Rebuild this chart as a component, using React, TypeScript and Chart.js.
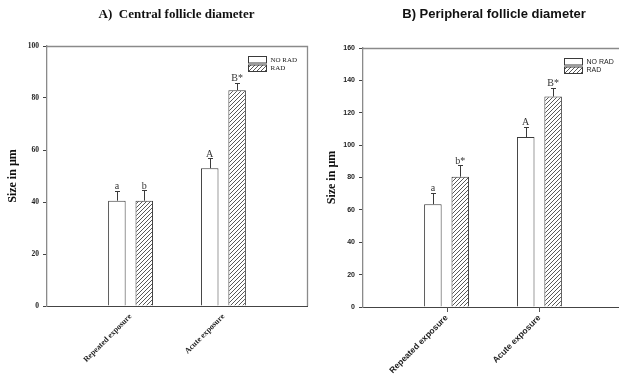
import React, { useEffect, useRef } from "react";
import { Chart, registerables } from "chart.js";

Chart.register(...registerables);

// ---------- data ----------
const categories = ["Repeated exposure", "Acute exposure"];
const seriesNames = ["NO RAD", "RAD"];

// Panel A: central follicle diameter
const centralTitle = "A)  Central follicle diameter";
const centralTicks = [0, 20, 40, 60, 80, 100];
const centralNoRad = [40.5, 53];
const centralRad = [40.5, 83];
const centralNoRadErr = [3.9, 3.8];
const centralRadErr = [4, 2.9];
const centralNoRadMarks = ["a", "A"];
const centralRadMarks = ["b", "B*"];

// Panel B: peripheral follicle diameter
const periphTitle = "B) Peripheral follicle diameter";
const periphTicks = [0, 20, 40, 60, 80, 100, 120, 140, 160];
const periphNoRad = [63.5, 105];
const periphRad = [80.5, 130];
const periphNoRadErr = [7, 6.5];
const periphRadErr = [7, 5.5];
const periphNoRadMarks = ["a", "A"];
const periphRadMarks = ["b*", "B*"];

const yTitle = "Size in µm";

const SERIF = "'Liberation Serif', 'Times New Roman', serif";
const SANS = "'Liberation Sans', Arial, sans-serif";

type PanelCfg = {
  canvasLeft: number;
  canvasWidth: number;
  padTop: number;
  padRight: number;
  yWidth: number;
  xHeight: number;
  xMin: number;
  xMax: number;
  yTicks: number[];
  noRad: number[];
  rad: number[];
  noRadErr: number[];
  radErr: number[];
  noRadMarks: string[];
  radMarks: string[];
  title: string;
  titleFont: string;
  titleX: number;
  titleY: number;
  tickFamily: string;
  yTickSize: number;
  xLabelSize: number;
  legendFont: string;
  showXTicks: boolean;
  yTitlePad: number;
};

function makeHatch(): CanvasPattern | string {
  const c = document.createElement("canvas");
  c.width = 4;
  c.height = 4;
  const g = c.getContext("2d");
  if (!g) return "#ccc";
  g.fillStyle = "#ffffff";
  g.fillRect(0, 0, 4, 4);
  g.strokeStyle = "#3a3a3a";
  g.lineWidth = 0.85;
  g.beginPath();
  g.moveTo(0, 4);
  g.lineTo(4, 0);
  g.moveTo(-1, 1);
  g.lineTo(1, -1);
  g.moveTo(3, 5);
  g.lineTo(5, 3);
  g.stroke();
  return g.createPattern(c, "repeat") || "#ccc";
}

const H = 378;

function Panel({ cfg }: { cfg: PanelCfg }) {
  const ref = useRef<HTMLCanvasElement | null>(null);

  useEffect(() => {
    if (!ref.current) return;
    const hatch = makeHatch();
    const xs = categories.map((_, i) => i + 1);
    const errs = [cfg.noRadErr, cfg.radErr];
    const marks = [cfg.noRadMarks, cfg.radMarks];

    const drawPlugin = {
      id: "decor",
      afterDatasetsDraw(chart: any) {
        const ctx = chart.ctx as CanvasRenderingContext2D;
        const a = chart.chartArea;
        const ys = chart.scales.y;
        const xsc = chart.scales.x;
        ctx.save();
        // frame top & right
        ctx.strokeStyle = "#8a8a8a";
        ctx.lineWidth = 1.3;
        ctx.beginPath();
        ctx.moveTo(a.left, Math.round(a.top) + 0.5);
        ctx.lineTo(Math.round(a.right) + 0.5, Math.round(a.top) + 0.5);
        ctx.lineTo(Math.round(a.right) + 0.5, a.bottom);
        ctx.stroke();

        // category tick marks
        if (cfg.showXTicks) {
          ctx.strokeStyle = "#555";
          ctx.lineWidth = 1;
          ctx.beginPath();
          xs.forEach((v) => {
            const px = Math.round(xsc.getPixelForValue(v)) + 0.5;
            ctx.moveTo(px, a.bottom);
            ctx.lineTo(px, a.bottom + 5);
          });
          ctx.stroke();
        }

        // error bars + marks
        chart.data.datasets.forEach((ds: any, di: number) => {
          const meta = chart.getDatasetMeta(di);
          meta.data.forEach((el: any, i: number) => {
            const v = ds.data[i].y;
            const top = ys.getPixelForValue(v + errs[di][i]);
            const x = Math.round(el.x) + 0.5;
            ctx.strokeStyle = "#3a3a3a";
            ctx.lineWidth = 1;
            ctx.beginPath();
            ctx.moveTo(x, el.y);
            ctx.lineTo(x, Math.round(top) + 0.5);
            ctx.moveTo(x - 2.5, Math.round(top) + 0.5);
            ctx.lineTo(x + 2.5, Math.round(top) + 0.5);
            ctx.stroke();
            ctx.fillStyle = "#333";
            ctx.font = `10px ${SERIF}`;
            ctx.textAlign = "center";
            ctx.textBaseline = "alphabetic";
            ctx.fillText(marks[di][i], el.x, top - 1.5);
          });
        });

        // legend
        const lx = Math.round(a.right - 59) + 0.5;
        const ly = Math.round(a.top + 10) + 0.5;
        const fills = ["#ffffff", hatch];
        seriesNames.forEach((name, k) => {
          const y = ly + k * 8.5;
          ctx.fillStyle = fills[k] as any;
          ctx.fillRect(lx, y, 18, 6.5);
          ctx.strokeStyle = "#3a3a3a";
          ctx.lineWidth = 1;
          ctx.strokeRect(lx, y, 18, 6.5);
          ctx.fillStyle = "#222";
          ctx.font = cfg.legendFont;
          ctx.textAlign = "left";
          ctx.textBaseline = "middle";
          ctx.fillText(name, lx + 22, y + 3.5);
        });

        // title
        ctx.fillStyle = "#111";
        ctx.font = cfg.titleFont;
        ctx.textAlign = "center";
        ctx.textBaseline = "alphabetic";
        ctx.fillText(cfg.title, cfg.titleX, cfg.titleY);
        ctx.restore();
      },
    };

    const chart = new Chart(ref.current, {
      type: "bar",
      data: {
        datasets: [
          {
            label: seriesNames[0],
            data: cfg.noRad.map((v, i) => ({ x: xs[i], y: v })),
            backgroundColor: "#ffffff",
            borderColor: "#3a3a3a",
            borderWidth: 1,
            categoryPercentage: 0.59,
            barPercentage: 0.64,
          },
          {
            label: seriesNames[1],
            data: cfg.rad.map((v, i) => ({ x: xs[i], y: v })),
            backgroundColor: hatch as any,
            borderColor: "#3a3a3a",
            borderWidth: 1,
            categoryPercentage: 0.59,
            barPercentage: 0.64,
          },
        ],
      } as any,
      options: {
        animation: false,
        responsive: false,
        maintainAspectRatio: false,
        layout: { padding: { top: cfg.padTop, right: cfg.padRight, left: 0, bottom: 0 } },
        plugins: {
          legend: { display: false },
          tooltip: { enabled: false },
          title: { display: false },
        },
        scales: {
          x: {
            type: "linear",
            min: cfg.xMin,
            max: cfg.xMax,
            offset: false,
            afterBuildTicks: (s: any) => {
              s.ticks = xs.map((v) => ({ value: v }));
            },
            afterFit: (s: any) => {
              s.height = cfg.xHeight;
            },
            grid: {
              offset: false,
              drawOnChartArea: false,
              drawTicks: true,
              tickLength: 5,
              tickColor: "rgba(0,0,0,0)",
            },
            border: { display: true, color: "#444", width: 1 },
            ticks: {
              autoSkip: false,
              minRotation: 45,
              maxRotation: 45,
              padding: 1,
              color: "#222",
              font: { family: cfg.tickFamily, size: cfg.xLabelSize, weight: "bold" },
              callback: (v: any) => categories[Math.round(Number(v)) - 1] ?? "",
            },
          },
          y: {
            min: cfg.yTicks[0],
            max: cfg.yTicks[cfg.yTicks.length - 1],
            afterBuildTicks: (s: any) => {
              s.ticks = cfg.yTicks.map((v) => ({ value: v }));
            },
            afterFit: (s: any) => {
              s.width = cfg.yWidth;
            },
            grid: {
              offset: false,
              drawOnChartArea: false,
              drawTicks: true,
              tickLength: 4,
              tickColor: "#444",
            },
            border: { display: true, color: "#8a8a8a", width: 1.3 },
            ticks: {
              padding: 4,
              color: "#222",
              font: { family: cfg.tickFamily, size: cfg.yTickSize, weight: "bold" },
            },
            title: {
              display: true,
              text: yTitle,
              color: "#111",
              padding: { top: cfg.yTitlePad, bottom: 0 },
              font: { family: SERIF, size: 12, weight: "bold" },
            },
          },
        },
      } as any,
      plugins: [drawPlugin],
    });
    return () => chart.destroy();
  }, [cfg]);

  return (
    <canvas
      ref={ref}
      width={cfg.canvasWidth}
      height={H}
      style={{
        position: "absolute",
        left: cfg.canvasLeft,
        top: 0,
        width: cfg.canvasWidth,
        height: H,
      }}
    />
  );
}

const panelA: PanelCfg = {
  canvasLeft: 0,
  canvasWidth: 310,
  padTop: 46,
  padRight: 3,
  yWidth: 47,
  xHeight: H - 306,
  xMin: 0.1,
  xMax: 2.9,
  yTicks: centralTicks,
  noRad: centralNoRad,
  rad: centralRad,
  noRadErr: centralNoRadErr,
  radErr: centralRadErr,
  noRadMarks: centralNoRadMarks,
  radMarks: centralRadMarks,
  title: centralTitle,
  titleFont: `bold 13px ${SERIF}`,
  titleX: 176.5,
  titleY: 17.5,
  tickFamily: SERIF,
  yTickSize: 7.5,
  xLabelSize: 8,
  legendFont: `7px ${SERIF}`,
  showXTicks: false,
  yTitlePad: 6,
};

const panelB: PanelCfg = {
  canvasLeft: 310,
  canvasWidth: 330,
  padTop: 48,
  padRight: 17,
  yWidth: 53,
  xHeight: H - 307,
  xMin: 0.1,
  xMax: 2.9,
  yTicks: periphTicks,
  noRad: periphNoRad,
  rad: periphRad,
  noRadErr: periphNoRadErr,
  radErr: periphRadErr,
  noRadMarks: periphNoRadMarks,
  radMarks: periphRadMarks,
  title: periphTitle,
  titleFont: `bold 13px ${SANS}`,
  titleX: 184,
  titleY: 18.3,
  tickFamily: SANS,
  yTickSize: 7,
  xLabelSize: 8.5,
  legendFont: `7px ${SANS}`,
  showXTicks: true,
  yTitlePad: 15,
};

export default function App() {
  return (
    <div
      style={{
        position: "fixed",
        left: 0,
        top: 0,
        width: 619,
        height: H,
        overflow: "hidden",
        background: "#ffffff",
      }}
    >
      <Panel cfg={panelA} />
      <Panel cfg={panelB} />
    </div>
  );
}
